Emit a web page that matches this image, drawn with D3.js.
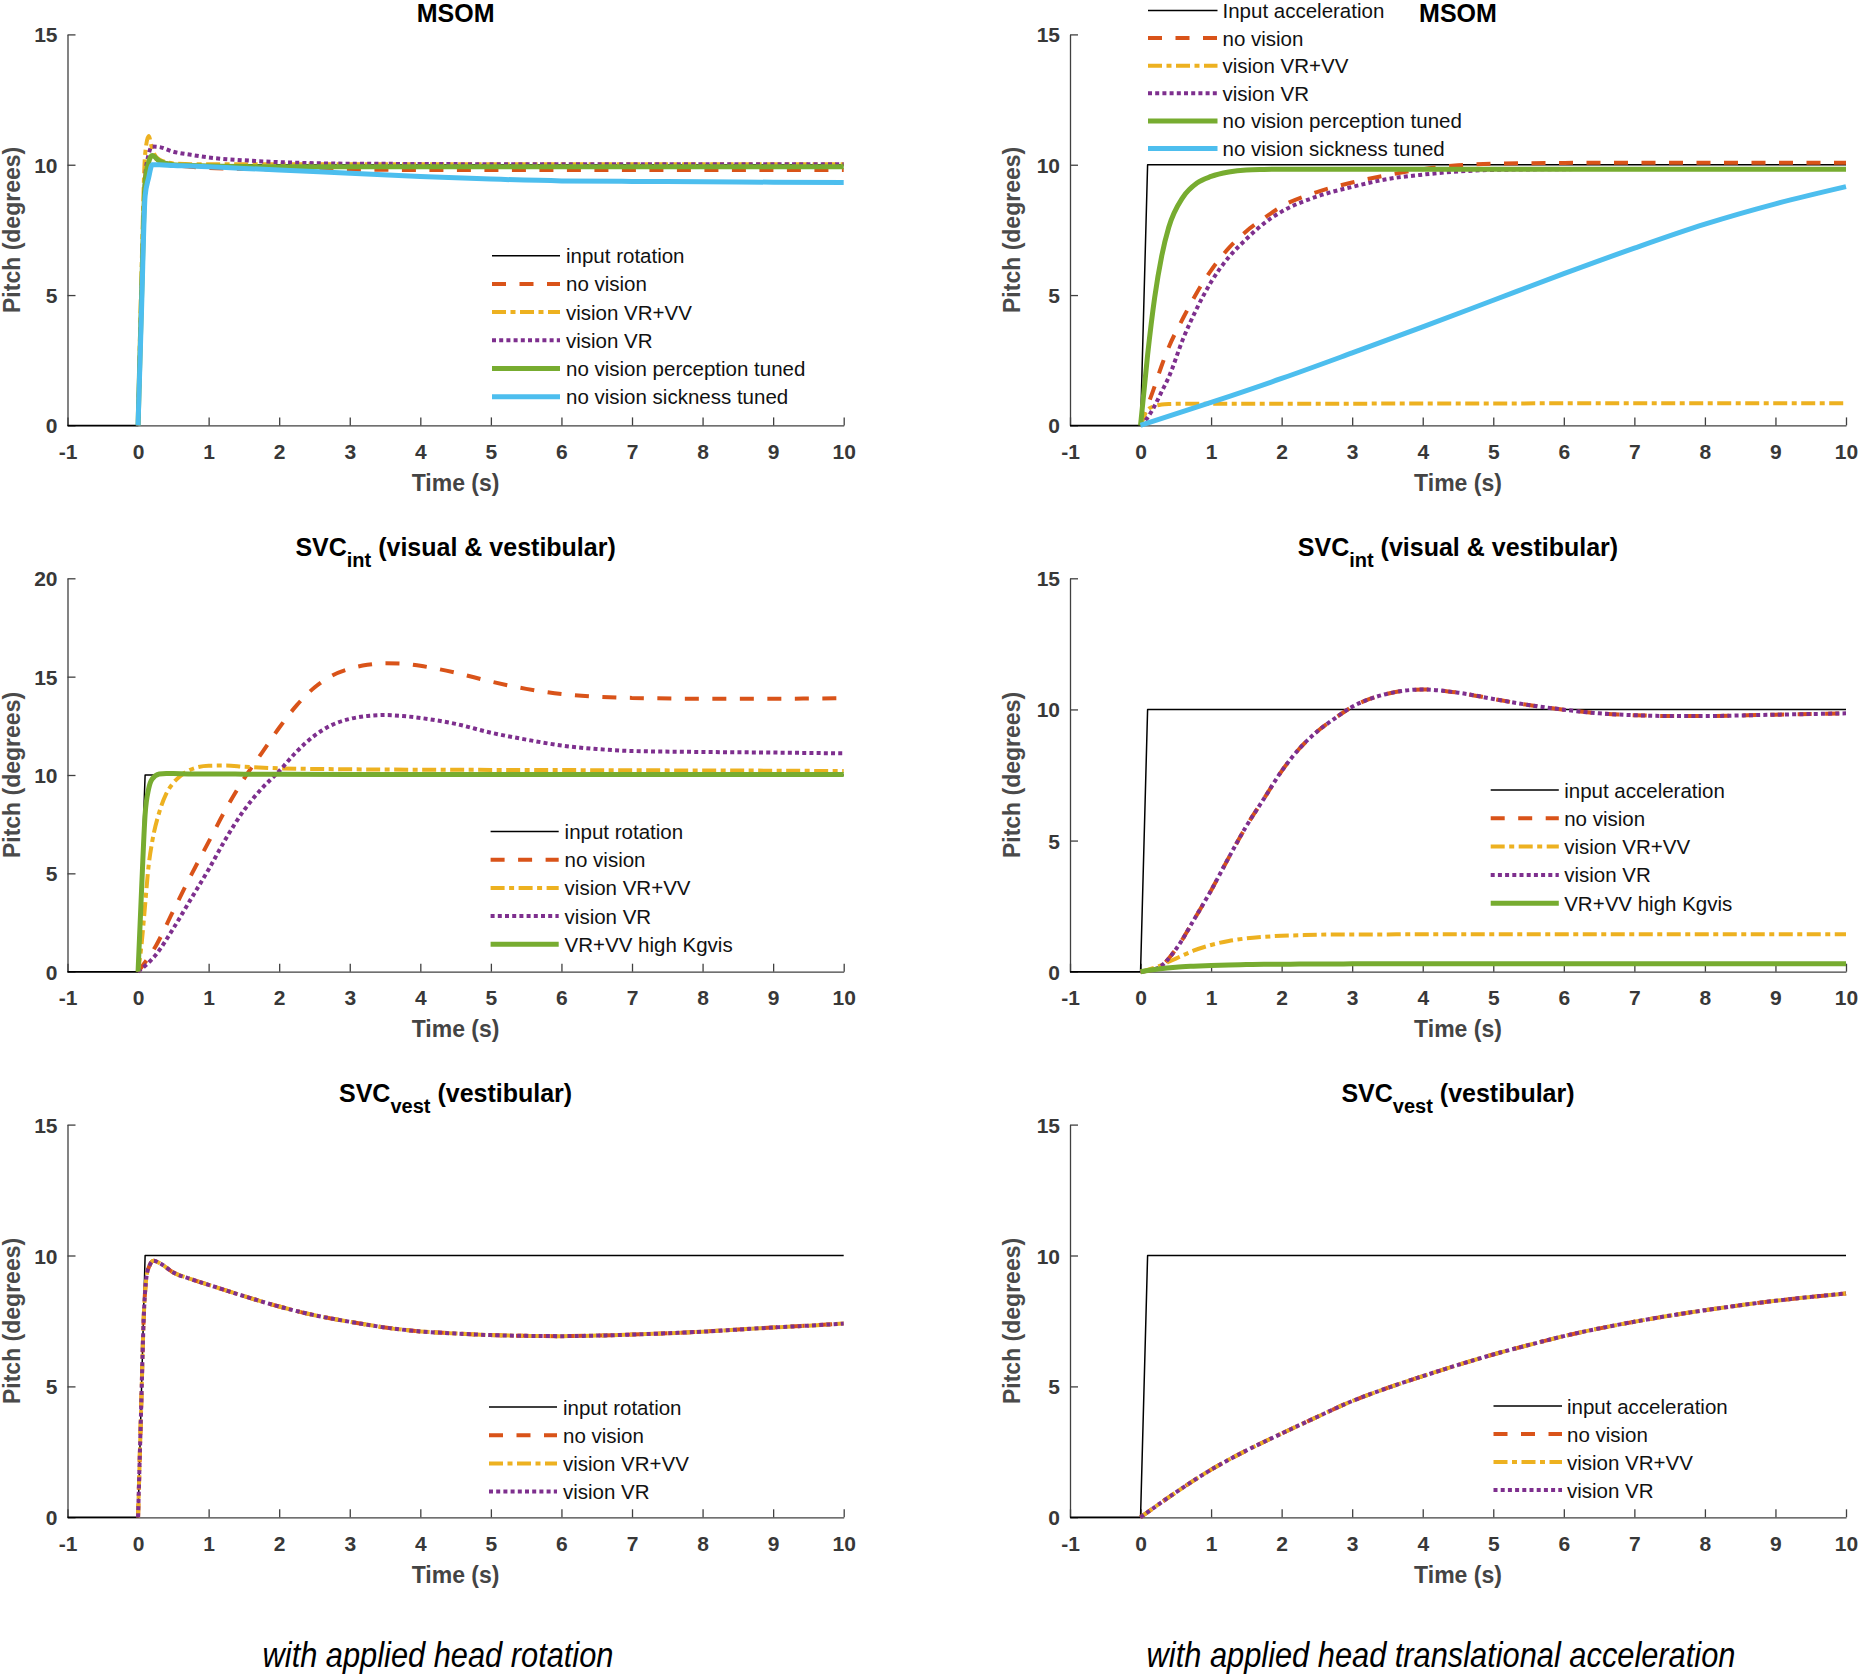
<!DOCTYPE html>
<html><head><meta charset="utf-8">
<script src="https://cdn.jsdelivr.net/npm/d3@7/dist/d3.min.js"></script>
<style>body{margin:0;background:#fff}svg{display:block}</style>
</head><body>
<svg id="c" width="1858" height="1679"></svg>
<script>
// ---------------- DATA ----------------
const xTickValues = [-1,0,1,2,3,4,5,6,7,8,9,10];
const yTicks15 = [0,5,10,15];
const yTicks20 = [0,5,10,15,20];

const inputT = [-1,0,0.1,10];
const inputV = [0,0,10,10];

// Panel A: MSOM, head rotation
const tA = [0,0.05,0.1,0.15,0.2,0.3,0.5,0.75,1,1.5,2,3,4,5,6,7,8,9,10];
const noVisionA = [0,5,9.5,10.2,10.3,10.15,10.0,9.92,9.88,9.84,9.82,9.81,9.8,9.8,9.8,9.8,9.8,9.8,9.8];
const vrvvA     = [0,6,10.4,11.1,10.6,10.2,10.05,10.02,10.02,10.02,10.02,10.02,10.02,10.02,10.02,10.02,10.02,10.02,10.02];
const vrA       = [0,5,9.5,10.4,10.7,10.68,10.5,10.38,10.28,10.17,10.1,10.04,10.03,10.02,10.02,10.02,10.02,10.02,10.02];
const percA     = [0,5,9.3,10.1,10.35,10.15,10.0,9.97,9.95,9.93,9.92,9.92,9.92,9.92,9.92,9.92,9.92,9.92,9.92];
const sickA     = [0,4.5,8.8,9.5,10.0,10.0,9.97,9.95,9.92,9.86,9.8,9.67,9.55,9.45,9.38,9.36,9.35,9.33,9.32];

// Panel B: MSOM, head translational acceleration
const tB = [0,0.1,0.2,0.3,0.4,0.6,0.8,1,1.25,1.5,1.75,2,2.5,3,3.5,4,4.5,5,6,7,8,9,10];
const noVisionB = [0,0.75,1.5,2.3,3.0,4.1,5.1,5.95,6.8,7.45,7.95,8.4,8.95,9.32,9.6,9.83,9.98,10.04,10.07,10.08,10.08,10.08,10.08];
const vrvvB     = [0,0.6,0.74,0.8,0.82,0.83,0.83,0.83,0.83,0.83,0.83,0.83,0.83,0.83,0.84,0.84,0.84,0.84,0.85,0.85,0.85,0.85,0.85];
const vrB       = [0,0.3,0.75,1.3,1.85,3.3,4.5,5.5,6.45,7.15,7.75,8.2,8.78,9.15,9.45,9.62,9.74,9.8,9.83,9.84,9.84,9.84,9.84];
const percB     = [0,2.7,4.9,6.5,7.6,8.75,9.3,9.55,9.72,9.8,9.82,9.83,9.83,9.83,9.83,9.83,9.83,9.83,9.83,9.83,9.83,9.83,9.83];
const tSickB = [0,1,2,3,4,5,6,7,8,9,10];
const sickB  = [0,0.88,1.8,2.78,3.78,4.8,5.82,6.8,7.72,8.5,9.16];

// Panel C: SVC int, head rotation
const tFastC = [0,0.05,0.1,0.15,0.2,0.3,0.4,0.5,0.6,0.8,1,1.25,1.5,2,3,4,5,6,7,8,9,10];
const highC  = [0,4.2,8.0,9.3,9.8,10.05,10.08,10.07,10.06,10.05,10.05,10.05,10.04,10.04,10.03,10.03,10.03,10.02,10.02,10.02,10.02,10.02];
const vrvvC  = [0,1.4,3.4,5.4,6.6,8.1,9.05,9.6,9.95,10.35,10.47,10.48,10.42,10.34,10.29,10.27,10.26,10.25,10.24,10.23,10.22,10.2];
const tSlowC = [0,0.25,0.5,0.75,1,1.25,1.5,1.75,2,2.25,2.5,2.75,3,3.25,3.5,3.75,4,4.5,5,5.5,6,6.5,7,8,9,10];
const noVisionC = [0,1.3,3.1,4.9,6.6,8.3,9.8,11.1,12.4,13.55,14.45,15.05,15.4,15.6,15.68,15.66,15.55,15.2,14.75,14.38,14.12,13.98,13.92,13.88,13.88,13.9];
const vrC       = [0,0.85,2.2,3.7,5.2,6.8,8.2,9.3,10.2,11.2,12.0,12.55,12.85,13.0,13.05,13.0,12.9,12.6,12.15,11.8,11.5,11.32,11.22,11.17,11.14,11.1];

// Panel D: SVC int, head translational acceleration
const tD = [0,0.25,0.5,0.75,1,1.25,1.5,1.75,2,2.25,2.5,2.75,3,3.25,3.5,3.75,4,4.5,5,5.5,6,6.5,7,7.5,8,9,10];
const noVisionD = [0,0.15,0.85,1.95,3.1,4.35,5.55,6.6,7.65,8.5,9.15,9.65,10.1,10.4,10.6,10.72,10.76,10.64,10.4,10.17,9.99,9.85,9.78,9.75,9.75,9.8,9.85];
const vrD       = [0,0.15,0.85,1.95,3.1,4.35,5.55,6.6,7.65,8.5,9.15,9.65,10.1,10.4,10.6,10.72,10.76,10.64,10.4,10.17,9.99,9.85,9.78,9.75,9.75,9.8,9.85];
const vrvvD     = [0,0.2,0.5,0.8,1.02,1.17,1.27,1.33,1.37,1.39,1.41,1.42,1.42,1.42,1.42,1.43,1.43,1.43,1.43,1.43,1.43,1.43,1.43,1.43,1.43,1.43,1.43];
const highD     = [0,0.1,0.17,0.21,0.24,0.26,0.27,0.28,0.28,0.29,0.29,0.29,0.3,0.3,0.3,0.3,0.3,0.3,0.3,0.3,0.3,0.3,0.3,0.3,0.3,0.3,0.3];

// Panel E: SVC vest, head rotation (all three vision cases coincide)
const tE = [0,0.04,0.08,0.12,0.16,0.22,0.3,0.5,0.75,1,1.5,2,2.5,3,3.5,4,4.5,5,5.5,6,6.5,7,7.5,8,8.5,9,9.5,10];
const noVisionE = [0,3.8,7.6,9.2,9.6,9.8,9.72,9.35,9.1,8.88,8.45,8.05,7.72,7.47,7.25,7.1,7.02,6.96,6.93,6.92,6.94,6.98,7.03,7.09,7.17,7.25,7.32,7.4];
const vrvvE     = [0,3.8,7.6,9.2,9.6,9.8,9.72,9.35,9.1,8.88,8.45,8.05,7.72,7.47,7.25,7.1,7.02,6.96,6.93,6.92,6.94,6.98,7.03,7.09,7.17,7.25,7.32,7.4];
const vrE       = [0,3.8,7.6,9.2,9.6,9.8,9.72,9.35,9.1,8.88,8.45,8.05,7.72,7.47,7.25,7.1,7.02,6.96,6.93,6.92,6.94,6.98,7.03,7.09,7.17,7.25,7.32,7.4];

// Panel F: SVC vest, head translational acceleration
const tF = [0,0.5,1,1.5,2,2.5,3,3.5,4,4.5,5,5.5,6,7,8,9,10];
const noVisionF = [0,0.95,1.82,2.55,3.2,3.83,4.44,4.94,5.39,5.82,6.22,6.58,6.92,7.47,7.91,8.27,8.55];
const vrvvF     = [0,0.95,1.82,2.55,3.2,3.83,4.44,4.94,5.39,5.82,6.22,6.58,6.92,7.47,7.91,8.27,8.55];
const vrF       = [0,0.95,1.82,2.55,3.2,3.83,4.44,4.94,5.39,5.82,6.22,6.58,6.92,7.47,7.91,8.27,8.55];

// Labels
const legendA = ['input rotation','no vision','vision VR+VV','vision VR','no vision perception tuned','no vision sickness tuned'];
const legendB = ['Input acceleration','no vision','vision VR+VV','vision VR','no vision perception tuned','no vision sickness tuned'];
const legendC = ['input rotation','no vision','vision VR+VV','vision VR','VR+VV high Kgvis'];
const legendD = ['input acceleration','no vision','vision VR+VV','vision VR','VR+VV high Kgvis'];
const legendE = ['input rotation','no vision','vision VR+VV','vision VR'];
const legendF = ['input acceleration','no vision','vision VR+VV','vision VR'];
const titleMain = ['MSOM','SVC','SVC'];
const titleSub  = ['','int','vest'];
const titleRest = ['',' (visual & vestibular)',' (vestibular)'];
const xLabel = 'Time (s)';
const yLabel = 'Pitch (degrees)';
const captions = ['with applied head rotation','with applied head translational acceleration'];

// ---------------- STYLES / LAYOUT ----------------
const styles = {
  input: {color:'#000000', w:1.5, dash:null},
  nov:   {color:'#D95319', w:4, dash:'14,13.5'},
  vrvv:  {color:'#EDB120', w:4, dash:'14,4.5,5,4.5'},
  vr:    {color:'#7E2F8E', w:4, dash:'4,3.2'},
  green: {color:'#77AC30', w:5, dash:null},
  blue:  {color:'#4DBEEE', w:5, dash:null}
};
const FONT = "'Liberation Sans', Arial, Helvetica, sans-serif";
const cols = [{x0:67.5, x1:843.7, ylab:20}, {x0:1070, x1:1846, ylab:1019.5}];
const rows = [{top:34.4, bot:425.4, titleY:21.7},
              {top:578.3, bot:971.7, titleY:556},
              {top:1124.6, bot:1517.3, titleY:1102}];

const panels = [
  {row:0,col:0,yMax:15,yt:yTicks15,legend:legendA,leg:{x0:492,x1:560,tx:566,y0:255.7,dy:28.2},
   series:[[tA,noVisionA,'nov'],[tA,vrvvA,'vrvv'],[tA,vrA,'vr'],[tA,percA,'green'],[tA,sickA,'blue']],
   legStyles:['input','nov','vrvv','vr','green','blue']},
  {row:0,col:1,yMax:15,yt:yTicks15,legend:legendB,leg:{x0:1148,x1:1217.5,tx:1222.5,y0:10.5,dy:27.6},
   series:[[tB,noVisionB,'nov'],[tB,vrvvB,'vrvv'],[tB,vrB,'vr'],[tB,percB,'green'],[tSickB,sickB,'blue']],
   legStyles:['input','nov','vrvv','vr','green','blue']},
  {row:1,col:0,yMax:20,yt:yTicks20,legend:legendC,leg:{x0:490.6,x1:558.7,tx:564.6,y0:831.5,dy:28.2},
   series:[[tSlowC,noVisionC,'nov'],[tFastC,vrvvC,'vrvv'],[tSlowC,vrC,'vr'],[tFastC,highC,'green']],
   legStyles:['input','nov','vrvv','vr','green']},
  {row:1,col:1,yMax:15,yt:yTicks15,legend:legendD,leg:{x0:1490.7,x1:1558.8,tx:1564.2,y0:790,dy:28.3},
   series:[[tD,noVisionD,'nov'],[tD,vrvvD,'vrvv'],[tD,vrD,'vr'],[tD,highD,'green']],
   legStyles:['input','nov','vrvv','vr','green']},
  {row:2,col:0,yMax:15,yt:yTicks15,legend:legendE,leg:{x0:489,x1:557,tx:563,y0:1407,dy:28.2},
   series:[[tE,noVisionE,'nov'],[tE,vrvvE,'vrvv'],[tE,vrE,'vr']],
   legStyles:['input','nov','vrvv','vr']},
  {row:2,col:1,yMax:15,yt:yTicks15,legend:legendF,leg:{x0:1493.5,x1:1562,tx:1567,y0:1406,dy:28},
   series:[[tF,noVisionF,'nov'],[tF,vrvvF,'vrvv'],[tF,vrF,'vr']],
   legStyles:['input','nov','vrvv','vr']}
];

const svg = d3.select('#c');
svg.append('rect').attr('width',1858).attr('height',1679).attr('fill','#fff');

function applyStyle(sel, st){
  sel.attr('fill','none').attr('stroke',st.color).attr('stroke-width',st.w)
     .attr('stroke-linecap','butt').attr('stroke-linejoin','round');
  if (st.dash) sel.attr('stroke-dasharray', st.dash);
}

panels.forEach(p => {
  const c = cols[p.col], r = rows[p.row];
  const x = d3.scaleLinear().domain([-1,10]).range([c.x0,c.x1]);
  const y = d3.scaleLinear().domain([0,p.yMax]).range([r.bot,r.top]);
  const g = svg.append('g');

  // axes
  const xa = g.append('g').attr('transform',`translate(0,${r.bot})`)
    .call(d3.axisBottom(x).tickValues(xTickValues).tickSizeInner(-8).tickSizeOuter(0).tickPadding(18.5).tickFormat(d => String(d)));
  const ya = g.append('g').attr('transform',`translate(${c.x0},0)`)
    .call(d3.axisLeft(y).tickValues(p.yt).tickSizeInner(-8).tickSizeOuter(0).tickPadding(10).tickFormat(d => String(d)));
  [xa,ya].forEach(a=>{
    a.attr('font-family',FONT).attr('font-size',21).attr('font-weight','bold');
    a.selectAll('path,line').attr('stroke','#404040').attr('stroke-width',1.3);
    a.selectAll('text').attr('fill','#383838');
  });
  xa.selectAll('text').attr('dy','0').attr('y', 33.5);
  ya.selectAll('text').attr('dy','0.36em');

  // axis labels
  g.append('text').attr('x',(c.x0+c.x1)/2).attr('y',r.bot+65.5).attr('text-anchor','middle')
    .attr('font-family',FONT).attr('font-size',23).attr('font-weight','bold').attr('fill','#444')
    .text(xLabel);
  g.append('text').attr('transform',`translate(${c.ylab},${(r.top+r.bot)/2}) rotate(-90)`)
    .attr('text-anchor','middle').attr('font-family',FONT).attr('font-size',23).attr('font-weight','bold')
    .attr('fill','#4a4a4a').text(yLabel);

  // title
  const tt = g.append('text').attr('x',(c.x0+c.x1)/2).attr('y',r.titleY).attr('text-anchor','middle')
    .attr('font-family',FONT).attr('font-size',25).attr('font-weight','bold').attr('fill','#000');
  tt.append('tspan').text(titleMain[p.row]);
  if (titleSub[p.row]) {
    tt.append('tspan').attr('dy',11).attr('font-size',20).text(titleSub[p.row]);
    tt.append('tspan').attr('dy',-11).text(titleRest[p.row]);
  }

  // series
  const lineLin = d3.line().x(d=>x(d[0])).y(d=>y(d[1]));
  const lineSm  = d3.line().x(d=>x(d[0])).y(d=>y(d[1])).curve(d3.curveMonotoneX);
  g.append('path').datum(d3.zip(inputT,inputV)).attr('d',lineLin).call(applyStyle, styles.input);
  p.series.forEach(([t,v,s]) => {
    g.append('path').datum(d3.zip(t,v)).attr('d',lineSm).call(applyStyle, styles[s]);
  });

  // legend
  p.legend.forEach((lab,i) => {
    const ly = p.leg.y0 + i*p.leg.dy;
    g.append('line').attr('x1',p.leg.x0).attr('x2',p.leg.x1).attr('y1',ly).attr('y2',ly)
      .call(applyStyle, styles[p.legStyles[i]]);
    g.append('text').attr('x',p.leg.tx).attr('y',ly+7.5).attr('font-family',FONT).attr('font-size',20.5)
      .attr('fill','#111').text(lab);
  });
});

// captions
[[438,captions[0]],[1441,captions[1]]].forEach(([cx,txt]) => {
  svg.append('text').attr('transform',`translate(${cx},1667) scale(0.88,1)`).attr('text-anchor','middle')
    .attr('font-family',FONT).attr('font-size',35).attr('font-style','italic').attr('fill','#000').text(txt);
});
</script>
</body></html>
